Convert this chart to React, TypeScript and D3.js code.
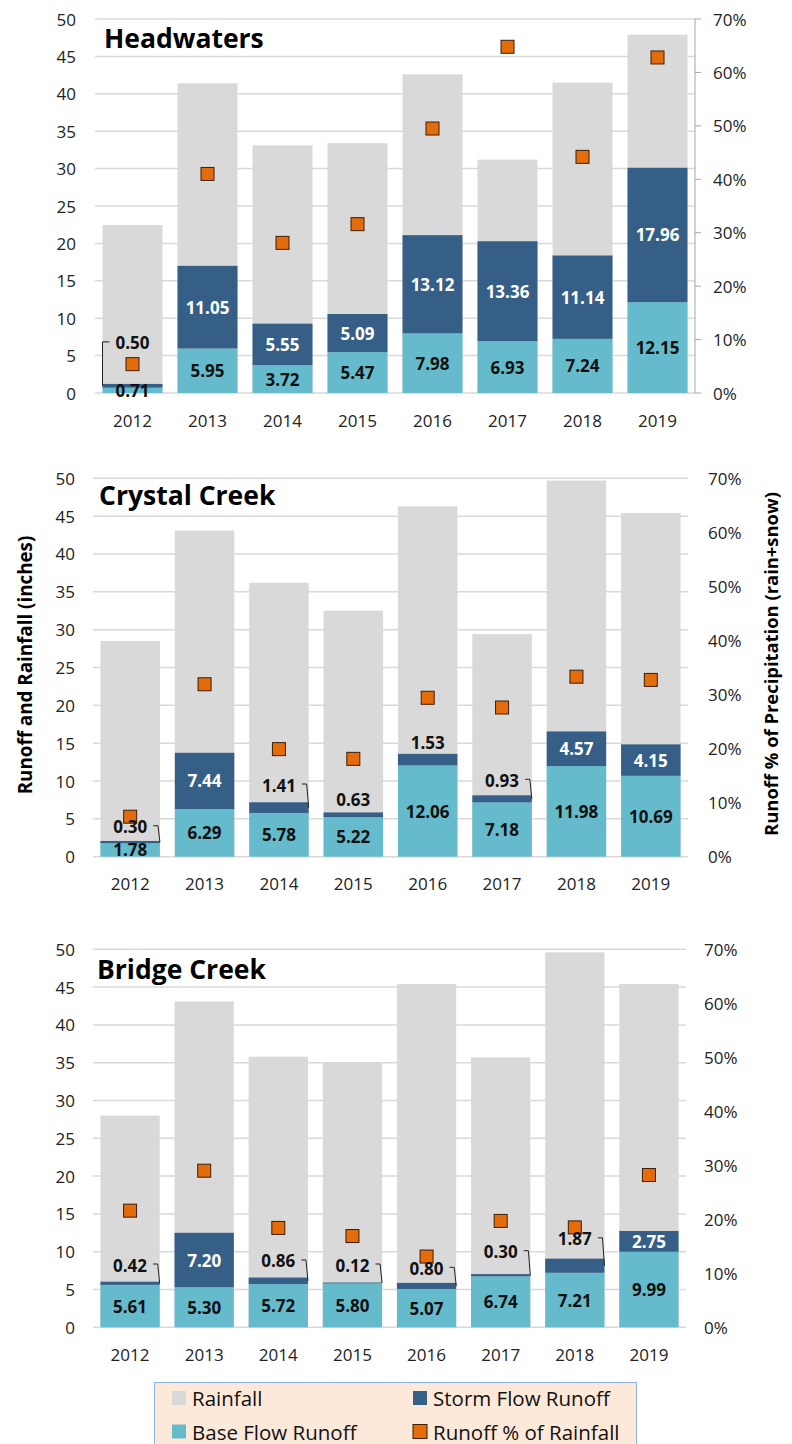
import React from "react";
import * as d3 from "d3";

const years = ["2012", "2013", "2014", "2015", "2016", "2017", "2018", "2019"];

// Headwaters
const hwRainfall = [22.46, 41.4, 33.1, 33.4, 42.6, 31.2, 41.5, 47.9];
const hwStorm = [0.5, 11.05, 5.55, 5.09, 13.12, 13.36, 11.14, 17.96];
const hwBase = [0.71, 5.95, 3.72, 5.47, 7.98, 6.93, 7.24, 12.15];
const hwPct = [5.4, 41.0, 28.1, 31.6, 49.5, 64.8, 44.2, 62.8];

// Crystal Creek
const ccRainfall = [28.5, 43.1, 36.2, 32.5, 46.3, 29.4, 49.7, 45.4];
const ccStorm = [0.3, 7.44, 1.41, 0.63, 1.53, 0.93, 4.57, 4.15];
const ccBase = [1.78, 6.29, 5.78, 5.22, 12.06, 7.18, 11.98, 10.69];
const ccPct = [7.4, 31.9, 19.9, 18.1, 29.4, 27.6, 33.3, 32.7];

// Bridge Creek
const bcRainfall = [28.0, 43.1, 35.8, 35.0, 45.4, 35.7, 49.6, 45.4];
const bcStorm = [0.42, 7.2, 0.86, 0.12, 0.8, 0.3, 1.87, 2.75];
const bcBase = [5.61, 5.3, 5.72, 5.8, 5.07, 6.74, 7.21, 9.99];
const bcPct = [21.6, 29.0, 18.4, 16.9, 13.1, 19.7, 18.5, 28.2];

const leftTicks = [0, 5, 10, 15, 20, 25, 30, 35, 40, 45, 50];
const rightTicks = [0, 10, 20, 30, 40, 50, 60, 70];

// storm-flow labels placed outside the bar (label height in inches, leader side)
type Callout = { year: string; at: number; leader: "left" | "right" | "none" };
const hwCallouts: Callout[] = [{ year: "2012", at: 6.7, leader: "left" }];
const ccCallouts: Callout[] = [
  { year: "2012", at: 3.96, leader: "right" },
  { year: "2014", at: 9.47, leader: "right" },
  { year: "2015", at: 7.5, leader: "none" },
  { year: "2016", at: 15.1, leader: "none" },
  { year: "2017", at: 10.1, leader: "right" },
];
const bcCallouts: Callout[] = [
  { year: "2012", at: 8.24, leader: "right" },
  { year: "2014", at: 8.77, leader: "right" },
  { year: "2015", at: 8.24, leader: "right" },
  { year: "2016", at: 7.8, leader: "right" },
  { year: "2017", at: 10.0, leader: "right" },
  { year: "2018", at: 11.7, leader: "right" },
];

const COLORS = {
  rain: "#D9D9D9",
  storm: "#355F86",
  base: "#65BBCC",
  pct: "#E46C0A",
  grid: "#D9D9D9",
};
const FONT = "'Open Sans', sans-serif";

interface PanelProps {
  title: string;
  rainfall: number[];
  storm: number[];
  base: number[];
  pct: number[];
  callouts: Callout[];
  left: number;
  right: number;
  top: number;
  bottom: number;
  tickX: number;
  rightX: number;
  titleX: number;
  titleY: number;
  rightAxis?: boolean;
}

const Panel = (p: PanelProps) => {
  const x = d3
    .scaleBand<string>()
    .domain(years)
    .range([p.left, p.right])
    .paddingInner(0.2)
    .paddingOuter(0.1);
  const y = d3.scaleLinear().domain([0, 50]).range([p.bottom, p.top]);
  const yPct = d3.scaleLinear().domain([0, 70]).range([p.bottom, p.top]);
  const bw = x.bandwidth();

  return (
    <g>
      {leftTicks.map((t) => (
        <g key={"g" + t}>
          <line x1={p.left} x2={p.right} y1={y(t)} y2={y(t)} stroke={COLORS.grid} strokeWidth={1.5} />
          <text x={p.tickX} y={y(t)} textAnchor="end" dominantBaseline="central" fontSize={17} fill="#222">
            {t}
          </text>
        </g>
      ))}
      {rightTicks.map((t) => (
        <text key={"r" + t} x={p.rightX} y={yPct(t)} dominantBaseline="central" fontSize={17} fill="#222">
          {t}%
        </text>
      ))}
      {p.rightAxis && (
        <g stroke="#A6A6A6" strokeWidth={1}>
          <line x1={p.right} x2={p.right} y1={p.top} y2={p.bottom} />
          {rightTicks.map((t) => (
            <line key={"rt" + t} x1={p.right} x2={p.right + 6} y1={yPct(t)} y2={yPct(t)} />
          ))}
        </g>
      )}
      {years.map((yr, i) => {
        const x0 = x(yr)!;
        const cx = x0 + bw / 2;
        const baseTop = y(p.base[i]);
        const stormTop = y(p.base[i] + p.storm[i]);
        const co = p.callouts.find((c) => c.year === yr);
        const segMid = (baseTop + stormTop) / 2;
        let leader: string | null = null;
        if (co && co.leader !== "none") {
          const ly = y(co.at) - 1;
          if (co.leader === "right") {
            const xr = x0 + bw;
            leader = `M${cx + 23},${ly} H${xr - 2} L${xr},${segMid}`;
          } else {
            leader = `M${cx - 23},${ly} H${x0} V${segMid}`;
          }
        }
        return (
          <g key={yr}>
            <rect x={x0} width={bw} y={y(p.rainfall[i])} height={p.bottom - y(p.rainfall[i])} fill={COLORS.rain} />
            <rect x={x0} width={bw} y={baseTop} height={p.bottom - baseTop} fill={COLORS.base} />
            <rect x={x0} width={bw} y={stormTop} height={baseTop - stormTop} fill={COLORS.storm} />
            <rect
              x={cx - 6.5}
              y={yPct(p.pct[i]) - 6.5}
              width={13}
              height={13}
              fill={COLORS.pct}
              stroke="#3a1e05"
              strokeWidth={1}
            />
            <text
              x={cx}
              y={(p.bottom + baseTop) / 2}
              textAnchor="middle"
              dominantBaseline="central"
              fontSize={17}
              fontWeight="bold"
              fill="#111"
            >
              {p.base[i].toFixed(2)}
            </text>
            {co ? (
              <text
                x={cx}
                y={y(co.at)}
                textAnchor="middle"
                dominantBaseline="central"
                fontSize={17}
                fontWeight="bold"
                fill="#111"
              >
                {p.storm[i].toFixed(2)}
              </text>
            ) : (
              <text
                x={cx}
                y={segMid}
                textAnchor="middle"
                dominantBaseline="central"
                fontSize={17}
                fontWeight="bold"
                fill="#fff"
              >
                {p.storm[i].toFixed(2)}
              </text>
            )}
            {leader && <path d={leader} fill="none" stroke="#222" strokeWidth={1} />}
            <text x={cx} y={p.bottom + 27} textAnchor="middle" dominantBaseline="central" fontSize={17} fill="#222">
              {yr}
            </text>
          </g>
        );
      })}
      <text x={p.titleX} y={p.titleY} fontSize={26.5} fontWeight="bold" fill="#000">
        {p.title}
      </text>
    </g>
  );
};

const legendItems = [
  { label: "Rainfall", color: COLORS.rain, col: 0, row: 0 },
  { label: "Storm Flow Runoff", color: COLORS.storm, col: 1, row: 0 },
  { label: "Base Flow Runoff", color: COLORS.base, col: 0, row: 1 },
  { label: "Runoff % of Rainfall", color: COLORS.pct, col: 1, row: 1, border: true },
];

export default function App() {
  return (
    <svg
      width={792}
      height={1444}
      style={{ position: "absolute", left: 0, top: 0, background: "#fff" }}
      fontFamily={FONT}
    >
      <Panel
        title="Headwaters"
        rainfall={hwRainfall}
        storm={hwStorm}
        base={hwBase}
        pct={hwPct}
        callouts={hwCallouts}
        left={95}
        right={695}
        top={19}
        bottom={393}
        tickX={76}
        rightX={713}
        titleX={104}
        titleY={48}
        rightAxis
      />
      <Panel
        title="Crystal Creek"
        rainfall={ccRainfall}
        storm={ccStorm}
        base={ccBase}
        pct={ccPct}
        callouts={ccCallouts}
        left={93}
        right={688}
        top={478.3}
        bottom={856.7}
        tickX={75}
        rightX={708}
        titleX={99}
        titleY={505}
      />
      <Panel
        title="Bridge Creek"
        rainfall={bcRainfall}
        storm={bcStorm}
        base={bcBase}
        pct={bcPct}
        callouts={bcCallouts}
        left={93}
        right={686}
        top={949.3}
        bottom={1327.3}
        tickX={75}
        rightX={704}
        titleX={97}
        titleY={979}
      />
      <text
        transform="translate(25,665) rotate(-90)"
        textAnchor="middle"
        dominantBaseline="central"
        fontSize={18.8}
        fontWeight="bold"
      >
        Runoff and Rainfall (inches)
      </text>
      <text
        transform="translate(770,664) rotate(-90)"
        textAnchor="middle"
        dominantBaseline="central"
        fontSize={18.4}
        fontWeight="bold"
      >
        Runoff % of Precipitation (rain+snow)
      </text>
      <rect x={154.5} y={1382.5} width={482} height={80} fill="#FDE9D9" stroke="#8EB4E3" strokeWidth={1} />
      {legendItems.map((it) => {
        const sx = it.col === 0 ? 172 : 413;
        const sy = it.row === 0 ? 1391 : 1424.5;
        return (
          <g key={it.label}>
            <rect
              x={sx}
              y={sy}
              width={14}
              height={14}
              fill={it.color}
              stroke={it.border ? "#3a1e05" : "none"}
              strokeWidth={1}
            />
            <text x={sx + 20} y={sy + 7} dominantBaseline="central" fontSize={20.5} fill="#111">
              {it.label}
            </text>
          </g>
        );
      })}
    </svg>
  );
}
